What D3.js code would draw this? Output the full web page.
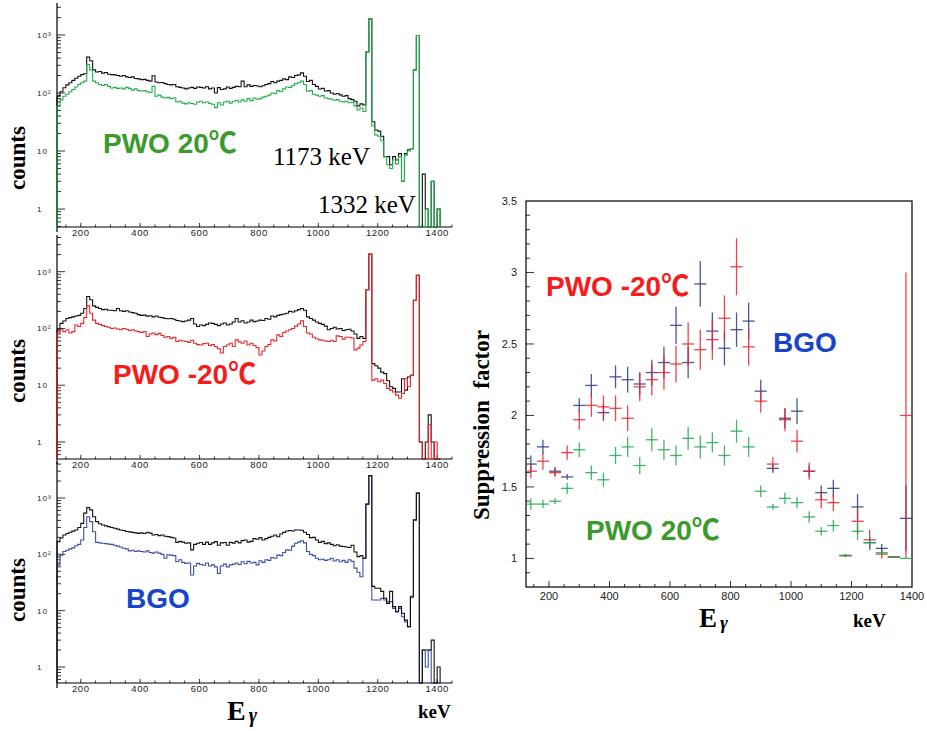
<!DOCTYPE html>
<html>
<head>
<meta charset="utf-8">
<script src="https://cdn.jsdelivr.net/npm/d3@7"></script>
<style>
  html, body { margin: 0; padding: 0; background: #fff; }
  svg { display: block; }
  .tlbl { font-family: "Liberation Sans", Arial, sans-serif; fill: #222; }
  .ser { font-family: "Liberation Serif", "Times New Roman", serif; font-weight: bold; fill: #000; }
  .tag { font-family: "Liberation Sans", Arial, "DejaVu Sans", sans-serif; font-weight: bold; }
  .deg { font-family: "Noto Sans CJK SC", "DejaVu Sans", sans-serif; font-weight: bold; }
</style>
</head>
<body>
<svg id="fig" width="927" height="731"></svg>
<script>
(function () {
    'use strict';

    // spectra: 10 keV bins, first bin starts at 120 keV (129 bins)
    var binLow = 120,
        binWidth = 10;

    var pwo20Total = [
        88, 105, 123, 138, 150, 165, 180, 195, 207, 215,
        415, 360, 250, 230, 235, 220, 225, 210, 207, 205,
        200, 195, 200, 190, 185, 190, 178, 175, 170, 172,
        165, 160, 198, 155, 150, 152, 145, 140, 138, 140,
        128, 125, 122, 118, 122, 125, 120, 127, 125, 122,
        128, 118, 122, 100, 124, 115, 118, 127, 120, 125,
        130, 128, 160, 128, 138, 130, 135, 132, 128, 133,
        140, 145, 158, 150, 160, 165, 175, 170, 190, 185,
        200, 205, 222, 195, 158, 165, 140, 130, 117, 120,
        108, 110, 100, 95, 98, 93, 88, 90, 80, 77,
        72, 60, 65, 62, 510, 1900, 32, 23, 22, 18,
        8, 8, 5.8, 8, 7, 9, 3, 9, 10.5, 11,
        250, 980, 0, 4, 1, 0, 3, 0, 1
    ];
    var pwo20Supp = [
        59, 76, 88, 95, 105, 115, 127, 140, 150, 160,
        310, 250, 160, 150, 140, 135, 140, 130, 122, 125,
        120, 122, 118, 125, 120, 112, 118, 110, 108, 110,
        105, 102, 130, 88, 92, 85, 82, 84, 80, 82,
        70, 72, 67, 65, 68, 66, 64, 70, 72, 68,
        70, 66, 64, 56, 68, 62, 70, 72, 67, 72,
        75, 70, 76, 72, 80, 74, 82, 78, 80, 85,
        88, 92, 100, 98, 110, 105, 118, 127, 125, 135,
        145, 150, 160, 140, 107, 110, 95, 92, 88, 90,
        82, 80, 78, 75, 77, 72, 70, 72, 68, 69,
        60, 51, 55, 48, 510, 1900, 27, 19, 18, 15,
        8, 5.8, 5, 7, 6, 8, 3, 8.5, 10, 11,
        250, 980, 0, 0, 1, 0, 3, 0, 1
    ];
    var pwoM20Total = [
        95, 123, 135, 150, 155, 160, 166, 170, 185, 225,
        365, 320, 250, 235, 225, 215, 218, 210, 210, 205,
        225, 205, 200, 205, 195, 190, 185, 175, 170, 172,
        165, 168, 160, 166, 158, 155, 150, 148, 150, 145,
        138, 135, 132, 135, 140, 150, 120, 108, 115, 112,
        118, 125, 123, 118, 112, 120, 125, 115, 120, 130,
        150, 130, 137, 125, 130, 140, 132, 135, 140, 138,
        150, 145, 166, 160, 170, 175, 180, 185, 200, 195,
        205, 215, 225, 210, 160, 150, 140, 130, 123, 118,
        110, 95, 100, 105, 98, 100, 92, 95, 97, 90,
        80, 67, 72, 67, 480, 2050, 24, 22, 20, 17,
        16, 12, 9.4, 8.8, 7.6, 7.6, 13, 8.2, 14, 15,
        314, 860, 1, 0, 1, 3, 1, 0, 0
    ];
    var pwoM20Supp = [
        83, 95, 88, 95, 83, 88, 115, 108, 123, 157,
        250, 185, 140, 123, 118, 112, 108, 105, 100, 102,
        98, 95, 100, 97, 92, 95, 90, 88, 85, 88,
        72, 80, 83, 78, 82, 75, 70, 72, 67, 70,
        59, 62, 60, 59, 57, 62, 55, 52, 51, 54,
        55, 50, 52, 48, 44, 37, 48, 51, 55, 48,
        63, 58, 55, 60, 51, 55, 50, 46, 34, 40,
        48, 52, 63, 60, 77, 72, 85, 90, 95, 100,
        110, 120, 137, 108, 83, 80, 70, 66, 63, 62,
        60, 59, 62, 59, 74, 72, 65, 70, 70, 68,
        42, 45, 51, 59, 480, 2050, 12.3, 13, 11.5, 12.3,
        10.7, 8.8, 8.2, 7.6, 6.7, 5.9, 7.2, 13, 9.4, 15,
        314, 860, 1, 0, 0, 2, 0, 1, 0
    ];
    var bgoTotal = [
        168, 195, 220, 235, 246, 258, 270, 300, 355, 540,
        675, 615, 465, 380, 350, 332, 320, 310, 300, 290,
        280, 270, 265, 255, 250, 245, 240, 236, 240, 235,
        246, 238, 220, 225, 215, 220, 210, 206, 200, 195,
        163, 170, 165, 157, 160, 120, 150, 157, 162, 150,
        165, 150, 160, 168, 145, 160, 162, 145, 163, 158,
        170, 160, 175, 180, 165, 170, 190, 185, 198, 180,
        190, 200, 210, 220, 205, 230, 245, 260, 265, 260,
        270, 270, 268, 246, 225, 198, 200, 180, 163, 170,
        155, 160, 150, 142, 148, 140, 138, 135, 132, 145,
        110, 91, 95, 85, 780, 2500, 27, 25, 25, 22,
        16.6, 13.5, 22, 11.8, 9.6, 11.8, 9, 6.8, 5.2, 18,
        410, 1220, 0, 2, 2, 2, 3, 0, 1
    ];
    var bgoSupp = [
        65, 97, 112, 118, 125, 130, 142, 150, 180, 300,
        465, 380, 252, 163, 160, 157, 155, 152, 150, 145,
        140, 135, 128, 125, 115, 118, 112, 115, 112, 110,
        115, 108, 105, 110, 105, 100, 85, 98, 97, 95,
        74, 80, 72, 69, 70, 43, 62, 69, 66, 64,
        70, 62, 65, 60, 46, 62, 67, 60, 65, 67,
        70, 66, 74, 68, 75, 70, 72, 65, 77, 72,
        80, 78, 88, 85, 97, 95, 108, 120, 118, 140,
        157, 165, 173, 160, 112, 100, 95, 85, 80, 82,
        78, 80, 85, 76, 80, 74, 78, 72, 80, 75,
        57, 48, 40, 85, 780, 2500, 15.5, 15.5, 15.5, 16.5,
        15.5, 14.5, 14.5, 11, 9.6, 11, 7.8, 6.3, 5.2, 17,
        400, 1220, 0, 2, 1, 2, 0, 0, 0
    ];

    // suppression factor, 40 keV bins
    var sfEnergy = [140, 180, 220, 260, 300, 340, 380, 420, 460, 500, 540, 580, 620, 660, 700, 740,
        780, 820, 860, 900, 940, 980, 1020, 1060, 1100, 1140, 1180, 1220, 1260, 1300, 1340, 1380];
    var sfBgo = [1.66, 1.78, 1.61, 1.57, 2.07, 2.21, 2.02, 2.27, 2.25, 2.22, 2.30, 2.37, 2.63, 2.37, 2.92, 2.59,
        2.47, 2.60, 2.66, 2.17, 1.63, 1.98, 2.03, 1.61, 1.46, 1.49, 1.02, 1.36, 1.11, 1.07, 1.01, 1.28];
    var sfBgoErr = [0.06, 0.05, 0.03, 0.02, 0.05, 0.08, 0.06, 0.08, 0.09, 0.08, 0.09, 0.11, 0.13, 0.11, 0.16, 0.13,
        0.12, 0.12, 0.13, 0.08, 0.03, 0.07, 0.09, 0.04, 0.05, 0.06, 0.01, 0.09, 0.04, 0.03, 0.005, 0.23];
    var sfPwoM20 = [1.61, 1.68, 1.60, 1.74, 1.97, 2.07, 2.06, 2.05, 1.98, 2.20, 2.25, 2.30, 2.36, 2.50, 2.46, 2.53,
        2.68, 3.04, 2.48, 2.10, 1.66, 1.97, 1.82, 1.61, 1.41, 1.39, 1.02, 1.26, 1.13, 1.03, 1.01, 2.00];
    var sfPwoM20Err = [0.05, 0.06, 0.03, 0.05, 0.07, 0.08, 0.08, 0.09, 0.09, 0.10, 0.11, 0.12, 0.13, 0.15, 0.14, 0.14,
        0.16, 0.20, 0.13, 0.08, 0.05, 0.08, 0.08, 0.06, 0.06, 0.06, 0.01, 0.09, 0.07, 0.03, 0.005, 1.0];
    var sfPwo20 = [1.38, 1.38, 1.40, 1.49, 1.76, 1.60, 1.55, 1.72, 1.78, 1.65, 1.83, 1.76, 1.72, 1.84, 1.78, 1.81,
        1.72, 1.89, 1.78, 1.47, 1.36, 1.42, 1.39, 1.29, 1.19, 1.23, 1.02, 1.19, 1.11, 1.04, 1.01, 1.00];
    var sfPwo20Err = [0.04, 0.03, 0.02, 0.04, 0.05, 0.05, 0.05, 0.06, 0.07, 0.06, 0.08, 0.07, 0.07, 0.08, 0.08, 0.07,
        0.07, 0.08, 0.07, 0.04, 0.02, 0.04, 0.04, 0.04, 0.03, 0.04, 0.01, 0.06, 0.05, 0.02, 0.005, 0];

    var xTicks = [200, 400, 600, 800, 1000, 1200, 1400];
    var logTicks = [1, 10, 100, 1000];
    var logTickLabels = ['1', '10', '10\u00b2', '10\u00b3'];
    var sfTicks = [1, 1.5, 2, 2.5, 3, 3.5];

    var svg = d3.select('#fig');

    // ---- left column: three spectra ----
    var xL = d3.scaleLinear().domain([120, 1450]).range([57, 452]);

    var panels = [
        { total: pwo20Total, supp: pwo20Supp, color: '#22b04b', top: 3, bottom: 227, yOne: 209, yK: 35,
          suppOnTop: true },
        { total: pwoM20Total, supp: pwoM20Supp, color: '#e8262e', top: 235, bottom: 459, yOne: 442, yK: 271.7,
          suppOnTop: true },
        { total: bgoTotal, supp: bgoSupp, color: '#3d4fa8', top: 462, bottom: 683, yOne: 667, yK: 498,
          suppOnTop: false }
    ];

    function histPath(values, y, lo) {
        var pts = [[binLow, lo]];
        values.forEach(function (v, i) {
            pts.push([binLow + i * binWidth, v > 0 ? v : lo]);
        });
        pts.push([binLow + values.length * binWidth, lo]);
        return d3.line()
            .curve(d3.curveStepAfter)
            .x(function (d) { return xL(d[0]); })
            .y(function (d) { return y(d[1]); })(pts);
    }

    panels.forEach(function (p) {
        var y = d3.scaleLog().domain([1, 1000]).range([p.yOne, p.yK]);
        var lo = y.invert(p.bottom), hi = y.invert(p.top);
        y.domain([lo, hi]).range([p.bottom, p.top]).clamp(true);

        var g = svg.append('g');

        // y axis with log ticks
        g.append('line')
            .attr('x1', 57).attr('x2', 57)
            .attr('y1', p.top).attr('y2', p.bottom + 5)
            .style('stroke', '#000').style('stroke-width', 1.2);

        var minor = [];
        for (var d = -1; d <= 3; d++) {
            for (var k = 1; k <= 9; k++) {
                var v = k * Math.pow(10, d);
                if (v >= lo && v <= hi) minor.push({ v: v, major: k === 1 });
            }
        }
        g.selectAll('line.yt').data(minor).enter().append('line')
            .attr('class', 'yt')
            .attr('x1', 57).attr('x2', function (t) { return t.major ? 65 : 61; })
            .attr('y1', function (t) { return y(t.v); })
            .attr('y2', function (t) { return y(t.v); })
            .style('stroke', '#000').style('stroke-width', 0.8);

        g.selectAll('text.yl').data(logTicks).enter().append('text')
            .attr('class', 'tlbl yl')
            .attr('x', 37)
            .attr('y', function (t) { return y(t) + 3; })
            .style('font-size', '8px')
            .style('letter-spacing', '1px')
            .text(function (t, i) { return logTickLabels[i]; });

        // x axis
        g.append('line')
            .attr('x1', 57).attr('x2', 452)
            .attr('y1', p.bottom).attr('y2', p.bottom)
            .style('stroke', '#000').style('stroke-width', 1.2);

        var xMinor = d3.range(150, 1451, 50);
        g.selectAll('line.xt').data(xMinor).enter().append('line')
            .attr('class', 'xt')
            .attr('x1', function (t) { return xL(t); })
            .attr('x2', function (t) { return xL(t); })
            .attr('y1', p.bottom)
            .attr('y2', function (t) { return p.bottom - (t % 200 === 0 ? 4 : 2.5); })
            .style('stroke', '#000').style('stroke-width', 0.8);

        g.selectAll('text.xl').data(xTicks).enter().append('text')
            .attr('class', 'tlbl xl')
            .attr('x', function (t) { return xL(t); })
            .attr('y', p.bottom + 9)
            .attr('text-anchor', 'middle')
            .style('font-size', '9.5px')
            .style('letter-spacing', '0.6px')
            .text(function (t) { return t; });

        var order = p.suppOnTop ?
            [{ data: p.total, color: '#111' }, { data: p.supp, color: p.color }] :
            [{ data: p.supp, color: p.color }, { data: p.total, color: '#111' }];

        order.forEach(function (s) {
            g.append('path')
                .attr('d', histPath(s.data, y, lo))
                .style('fill', 'none')
                .style('stroke', s.color)
                .style('stroke-width', 1.1);
        });
    });

    // coloured detector tags, "℃" taken from a CJK face so the ring sits tight on the C
    function tag(x, y, text, color, size) {
        var t = svg.append('text')
            .attr('class', 'tag')
            .attr('x', x).attr('y', y)
            .style('font-size', size + 'px')
            .style('fill', color);
        var hasDeg = text.indexOf('\u2103') >= 0;
        t.append('tspan').text(hasDeg ? text.replace('\u2103', '') : text);
        if (hasDeg) {
            t.append('tspan').attr('class', 'deg').text('\u2103');
        }
    }

    tag(103, 153, 'PWO 20\u2103', '#3c9a2c', 28);
    tag(113, 384, 'PWO -20\u2103', '#f51c1c', 28);
    tag(126, 608, 'BGO', '#1745c9', 28);

    svg.append('text')
        .attr('x', 273).attr('y', 165)
        .style('font-family', '"Liberation Serif", "Times New Roman", serif')
        .style('font-size', '25px')
        .text('1173 keV');
    svg.append('text')
        .attr('x', 318).attr('y', 213)
        .style('font-family', '"Liberation Serif", "Times New Roman", serif')
        .style('font-size', '25px')
        .text('1332 keV');

    [158, 371, 590].forEach(function (cy) {
        svg.append('text')
            .attr('class', 'ser')
            .attr('transform', 'translate(25,' + cy + ') rotate(-90)')
            .attr('text-anchor', 'middle')
            .style('font-size', '23px')
            .text('counts');
    });

    function eGamma(x, y, size) {
        var t = svg.append('text')
            .attr('class', 'ser')
            .attr('x', x).attr('y', y)
            .style('font-size', size + 'px')
            .text('E');
        t.append('tspan')
            .attr('dx', 3).attr('dy', 2)
            .style('font-style', 'italic')
            .style('font-size', Math.round(size * 0.7) + 'px')
            .text('\u03b3');
    }

    eGamma(227, 720, 28);
    svg.append('text').attr('class', 'ser')
        .attr('x', 418).attr('y', 718)
        .style('font-size', '19px')
        .text('keV');

    // ---- right: suppression factor ----
    var xR = d3.scaleLinear().domain([124, 1400]).range([526, 912]);
    var yR = d3.scaleLinear().domain([0.8, 3.5]).range([587, 201]);

    var gr = svg.append('g');

    gr.append('defs').append('clipPath').attr('id', 'sfclip')
        .append('rect')
        .attr('x', xR(124)).attr('y', yR(3.5))
        .attr('width', xR(1400) - xR(124)).attr('height', yR(0.8) - yR(3.5));

    gr.append('rect')
        .attr('x', xR(124)).attr('y', yR(3.5))
        .attr('width', xR(1400) - xR(124)).attr('height', yR(0.8) - yR(3.5))
        .style('fill', 'none').style('stroke', '#000').style('stroke-width', 1.2);

    var yMinorR = d3.range(9, 35).map(function (i) { return i / 10; });
    gr.selectAll('line.ryt').data(yMinorR).enter().append('line')
        .attr('class', 'ryt')
        .attr('x1', xR(124))
        .attr('x2', function (t) { return xR(124) + (Math.round(t * 10) % 5 === 0 ? 8 : 4); })
        .attr('y1', function (t) { return yR(t); })
        .attr('y2', function (t) { return yR(t); })
        .style('stroke', '#000').style('stroke-width', 0.8);

    gr.selectAll('text.ryl').data(sfTicks).enter().append('text')
        .attr('class', 'tlbl ryl')
        .attr('x', 517)
        .attr('y', function (t) { return yR(t) + 4; })
        .attr('text-anchor', 'end')
        .style('font-size', '11px')
        .text(function (t) { return t; });

    var xMinorR = d3.range(150, 1400, 50);
    gr.selectAll('line.rxt').data(xMinorR).enter().append('line')
        .attr('class', 'rxt')
        .attr('x1', function (t) { return xR(t); })
        .attr('x2', function (t) { return xR(t); })
        .attr('y1', yR(0.8))
        .attr('y2', function (t) { return yR(0.8) - (t % 200 === 0 ? 6 : 3); })
        .style('stroke', '#000').style('stroke-width', 0.8);

    gr.selectAll('text.rxl').data(xTicks).enter().append('text')
        .attr('class', 'tlbl rxl')
        .attr('x', function (t) { return xR(t); })
        .attr('y', 600)
        .attr('text-anchor', 'middle')
        .style('font-size', '11px')
        .text(function (t) { return t; });

    var sfSeries = [
        { v: sfBgo, e: sfBgoErr, color: '#2c3a8c' },
        { v: sfPwoM20, e: sfPwoM20Err, color: '#e8262e' },
        { v: sfPwo20, e: sfPwo20Err, color: '#22a852' }
    ];

    var marks = gr.append('g').attr('clip-path', 'url(#sfclip)');
    sfSeries.forEach(function (s) {
        var pts = sfEnergy.map(function (en, i) { return { x: en, v: s.v[i], e: s.e[i] }; });
        var sg = marks.append('g')
            .style('stroke', s.color)
            .style('stroke-width', 1.3)
            .style('stroke-opacity', 0.85);
        sg.selectAll('line.h').data(pts).enter().append('line')
            .attr('x1', function (d) { return xR(d.x - 20); })
            .attr('x2', function (d) { return xR(d.x + 20); })
            .attr('y1', function (d) { return yR(d.v); })
            .attr('y2', function (d) { return yR(d.v); });
        sg.selectAll('line.v').data(pts.filter(function (d) { return d.e > 0; })).enter().append('line')
            .attr('x1', function (d) { return xR(d.x); })
            .attr('x2', function (d) { return xR(d.x); })
            .attr('y1', function (d) { return yR(d.v - d.e); })
            .attr('y2', function (d) { return yR(d.v + d.e); });
    });

    tag(546, 296, 'PWO -20\u2103', '#f51c1c', 28);
    tag(773, 352, 'BGO', '#1745c9', 28);
    tag(586, 540, 'PWO 20\u2103', '#3c9a2c', 28);

    svg.append('text')
        .attr('class', 'ser')
        .attr('transform', 'translate(489,425) rotate(-90)')
        .attr('text-anchor', 'middle')
        .style('font-size', '23px')
        .text('Suppression\u00a0\u00a0factor');

    eGamma(699, 627, 27);
    svg.append('text').attr('class', 'ser')
        .attr('x', 853).attr('y', 627)
        .style('font-size', '19px')
        .text('keV');
})();
</script>
</body>
</html>
